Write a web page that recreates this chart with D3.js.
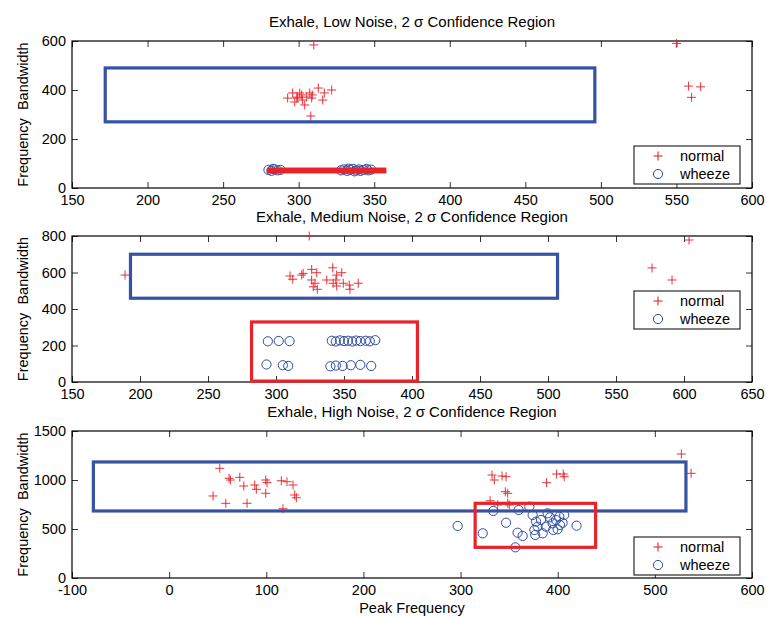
<!DOCTYPE html>
<html>
<head>
<meta charset="utf-8">
<script src="https://cdn.jsdelivr.net/npm/d3@7"></script>
<style>
  body { margin: 0; background: #fff; }
  svg text { font-family: "Liberation Sans", Arial, sans-serif; }
</style>
</head>
<body>
<svg id="chart" width="767" height="618"></svg>
<script>
// ---- data ----
const titles = [
  "Exhale, Low Noise, 2 \u03c3 Confidence Region",
  "Exhale, Medium Noise, 2 \u03c3 Confidence Region",
  "Exhale, High Noise, 2 \u03c3 Confidence Region"
];

const lowXTicks = [150, 200, 250, 300, 350, 400, 450, 500, 550, 600];
const lowYTicks = [0, 200, 400, 600];
const medXTicks = [150, 200, 250, 300, 350, 400, 450, 500, 550, 600, 650];
const medYTicks = [0, 200, 400, 600, 800];
const highXTicks = [-100, 0, 100, 200, 300, 400, 500, 600];
const highYTicks = [0, 500, 1000, 1500];

// [x, y] pairs
const lowNormal = [
  [292.7, 367], [296, 388], [297.4, 351], [299.3, 371], [302, 380], [302.6, 359],
  [304, 339], [305.3, 371], [307.3, 388], [308.6, 367], [313, 408], [315.9, 359],
  [317, 388], [321.8, 400], [308, 294], [300.7, 388], [298.7, 367], [309, 380],
  [310, 584], [550, 590], [558, 416], [566, 413], [560, 370]
];
const lowWheeze = [
  [280, 74], [282, 70], [284, 76], [286, 72], [288, 74], [283, 78],
  [328, 72], [330, 76], [332, 70], [334, 74], [336, 78], [338, 72], [340, 76],
  [341, 70], [343, 74], [345, 78], [346, 72], [348, 75], [337, 68], [333, 79]
];
const lowBlueBox = [172, 496, 270, 490];   // x0, x1, y0, y1
const lowRedBox = [280, 357, 66, 77];

const medNormal = [
  [189, 586], [324.5, 800], [310.3, 581], [312.3, 563], [318.9, 586], [320, 595],
  [326.2, 617], [329.9, 599], [326.2, 559], [328.7, 541], [330.4, 508], [337.3, 559],
  [341.7, 626], [342, 541], [344, 559], [344.6, 526], [348.3, 599], [349.5, 541],
  [353.9, 531], [354.4, 508], [360.5, 541], [327.4, 522], [344.6, 586],
  [576.5, 625], [591.2, 559], [603.7, 778]
];
const medWheeze = [
  [294, 223], [302, 225], [310, 224],
  [341, 226], [344, 222], [347, 228], [350, 224], [353, 226], [356, 222],
  [359, 227], [362, 224], [366, 226], [369, 223], [373, 229],
  [293, 96], [305, 92], [309, 88],
  [340, 86], [344, 90], [349, 88], [355, 92], [362, 94], [370, 88]
];
const medBlueBox = [193, 507, 459, 700];
const medRedBox = [282, 404, 5, 329];

const highNormal = [
  [52.1, 1119], [61.7, 1017], [63.1, 1000], [72.7, 1027], [76.8, 939], [88.1, 949],
  [89.8, 905], [99.4, 1000], [100.8, 973], [99.4, 864], [115.5, 993], [121.3, 983],
  [127.5, 949], [129.2, 847], [131, 819], [45.2, 837], [58.3, 762], [80.2, 762],
  [117.2, 707],
  [332.4, 1051], [334.8, 1000], [342.7, 1041], [346.8, 1034], [346.1, 881],
  [348.5, 864], [330.4, 789], [338.2, 745], [348.5, 762], [350.2, 745],
  [388.5, 973], [398.8, 1061], [405.7, 1061], [406.7, 1034],
  [527.3, 1265], [537.3, 1068]
];
const highWheeze = [
  [297, 531], [322.8, 456], [333.7, 684], [346.8, 564], [356.4, 313], [358.7, 462],
  [363.9, 429], [359.8, 694], [370.8, 728], [374.2, 643], [377.7, 575], [376, 490],
  [379.3, 524], [376.9, 439], [382.8, 592], [384.5, 456], [387.9, 524], [392, 619],
  [394.7, 558], [398.2, 592], [399.9, 497], [395.4, 490], [402.3, 541], [405, 564],
  [406.7, 643], [419.4, 534], [389.6, 660], [401.6, 626]
];
const highBlueBox = [-78, 532, 684, 1184];
const highRedBox = [315, 439, 313, 762];

const legendLabels = ["normal", "wheeze"];

// ---- layout ----
const red = "#e8232a", blue = "#2f4ea1", boxBlue = "#3552a3";
const left = 72, right = 752;
const fmt = d => String(d);   // plain hyphen minus, no thousands comma

const panels = [
  { title: titles[0], xd: [150, 600], yd: [0, 600], top: 41, bottom: 188,
    xt: lowXTicks, yt: lowYTicks, normal: lowNormal, wheeze: lowWheeze,
    blue: lowBlueBox, red: lowRedBox, legTop: 146 },
  { title: titles[1], xd: [150, 650], yd: [0, 800], top: 236, bottom: 382,
    xt: medXTicks, yt: medYTicks, normal: medNormal, wheeze: medWheeze,
    blue: medBlueBox, red: medRedBox, legTop: 291 },
  { title: titles[2], xd: [-100, 600], yd: [0, 1500], top: 431, bottom: 578,
    xt: highXTicks, yt: highYTicks, normal: highNormal, wheeze: highWheeze,
    blue: highBlueBox, red: highRedBox, legTop: 537 }
];

const svg = d3.select("#chart");

function plus(sel, s) {
  sel.append("line").attr("x1", -s).attr("x2", s).attr("y1", 0).attr("y2", 0);
  sel.append("line").attr("x1", 0).attr("x2", 0).attr("y1", -s).attr("y2", s);
}

panels.forEach(function (p, i) {
  const x = d3.scaleLinear().domain(p.xd).range([left, right]);
  const y = d3.scaleLinear().domain(p.yd).range([p.bottom, p.top]);
  const g = svg.append("g");

  // title
  g.append("text")
    .attr("x", (left + right) / 2).attr("y", p.top - 14)
    .attr("text-anchor", "middle").attr("font-size", 15)
    .text(p.title);

  // axes (inward ticks)
  const ax = [
    g.append("g").attr("transform", "translate(0," + p.bottom + ")")
      .call(d3.axisBottom(x).tickValues(p.xt).tickSize(-6).tickSizeOuter(0).tickPadding(7).tickFormat(fmt)),
    g.append("g").attr("transform", "translate(0," + p.top + ")")
      .call(d3.axisTop(x).tickValues(p.xt).tickSize(-6).tickSizeOuter(0).tickFormat("")),
    g.append("g").attr("transform", "translate(" + left + ",0)")
      .call(d3.axisLeft(y).tickValues(p.yt).tickSize(-6).tickSizeOuter(0).tickPadding(6).tickFormat(fmt)),
    g.append("g").attr("transform", "translate(" + right + ",0)")
      .call(d3.axisRight(y).tickValues(p.yt).tickSize(-6).tickSizeOuter(0).tickFormat(""))
  ];
  ax.forEach(function (a) {
    a.select(".domain").remove();
    a.selectAll(".tick line").attr("stroke", "#333");
    a.selectAll(".tick text").attr("font-size", 14.5).attr("fill", "#000")
      .attr("font-family", "Liberation Sans, Arial, sans-serif");
  });
  g.append("rect")
    .attr("x", left).attr("y", p.top)
    .attr("width", right - left).attr("height", p.bottom - p.top)
    .attr("fill", "none").attr("stroke", "#000").attr("stroke-width", 1.2);

  // y label
  g.append("text")
    .attr("transform", "translate(28," + (p.top + p.bottom) / 2 + ") rotate(-90)")
    .attr("text-anchor", "middle").attr("font-size", 14.5)
    .attr("xml:space", "preserve")
    .text("Frequency  Bandwidth");

  // points
  g.append("g").selectAll("g").data(p.normal).join("g")
    .attr("transform", d => "translate(" + x(d[0]) + "," + y(d[1]) + ")")
    .attr("stroke", red).attr("stroke-width", 1.1).attr("stroke-opacity", 0.85)
    .each(function () { plus(d3.select(this), 4.5); });

  g.append("g").selectAll("circle").data(p.wheeze).join("circle")
    .attr("cx", d => x(d[0])).attr("cy", d => y(d[1])).attr("r", 4.6)
    .attr("fill", "none").attr("stroke", blue).attr("stroke-width", 1);

  // confidence boxes
  [[p.blue, boxBlue], [p.red, red]].forEach(function (b) {
    const r = b[0];
    g.append("rect")
      .attr("x", x(r[0])).attr("y", y(r[3]))
      .attr("width", x(r[1]) - x(r[0])).attr("height", y(r[2]) - y(r[3]))
      .attr("fill", "none").attr("stroke", b[1]).attr("stroke-width", 3.2);
  });

  // legend
  const lg = g.append("g").attr("transform", "translate(634," + p.legTop + ")");
  lg.append("rect").attr("width", 106).attr("height", 38)
    .attr("fill", "#fff").attr("stroke", "#000").attr("stroke-width", 1);
  const e1 = lg.append("g").attr("transform", "translate(24,10)")
    .attr("stroke", red).attr("stroke-width", 1.1);
  plus(e1, 4.5);
  lg.append("circle").attr("cx", 24).attr("cy", 28).attr("r", 4.6)
    .attr("fill", "none").attr("stroke", blue);
  legendLabels.forEach(function (t, k) {
    lg.append("text").attr("x", 46).attr("y", 15 + k * 18)
      .attr("font-size", 14.5).text(t);
  });
});

// x label
svg.append("text")
  .attr("x", (left + right) / 2).attr("y", 613)
  .attr("text-anchor", "middle").attr("font-size", 14.5)
  .text("Peak Frequency");
</script>
</body>
</html>
